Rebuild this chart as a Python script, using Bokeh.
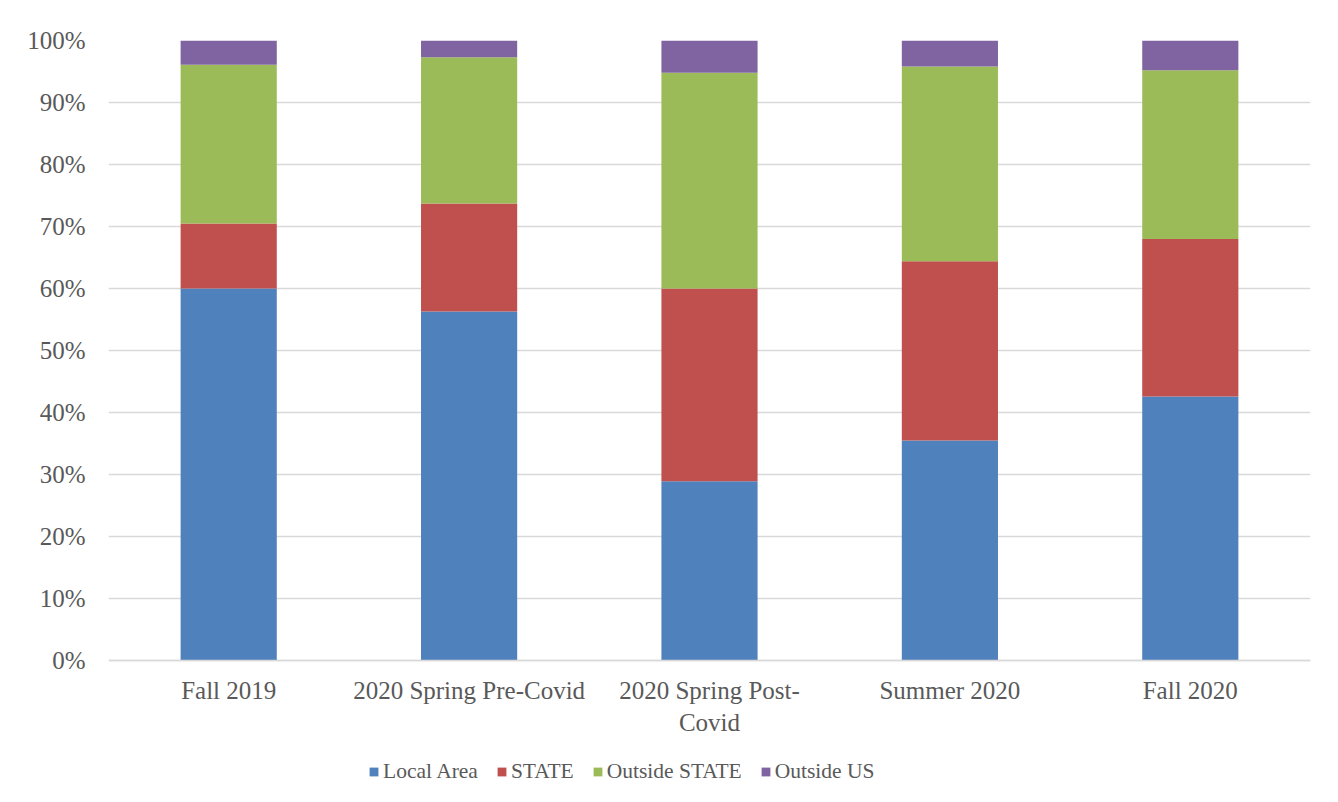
from bokeh.plotting import figure
from bokeh.models import (FactorRange, Range1d, FixedTicker, PrintfTickFormatter, Legend,
                          LegendItem, CategoricalAxis)
from bokeh.embed import file_html
from bokeh.resources import INLINE

categories = ["Fall 2019", "2020 Spring Pre-Covid", "2020 Spring Post-\nCovid", "Summer 2020", "Fall 2020"]
series_names = ["Local Area", "STATE", "Outside STATE", "Outside US"]
local_area = [60.0, 56.3, 28.9, 35.5, 42.6]
state = [10.5, 17.4, 31.1, 28.9, 25.4]
outside_state = [25.6, 23.6, 34.8, 31.4, 27.2]
outside_us = [3.9, 2.7, 5.2, 4.2, 4.8]
y_ticks = [0, 10, 20, 30, 40, 50, 60, 70, 80, 90, 100]

colors = ["#4F81BD", "#C0504D", "#9BBB59", "#8064A2"]
FONT = "Liberation Serif"
TEXT_COLOR = "#595959"
GRID = "#d9d9d9"

data = {"cat": categories, "Local Area": local_area, "STATE": state,
        "Outside STATE": outside_state, "Outside US": outside_us}

# frame: 40px from top to bottom of canvas (746px); 100% spans 620px -> extra space below 0
p = figure(width=1322, height=786, output_backend="svg", toolbar_location=None,
           x_range=FactorRange(*categories, range_padding=0),
           y_range=Range1d(-20.32, 100), x_axis_location=None)
p.min_border_left = 108
p.min_border_right = 12
p.min_border_top = 40
p.min_border_bottom = 0
p.outline_line_color = None

renderers = p.vbar_stack(series_names, x="cat", width=0.4, source=data,
                         color=colors, line_color=None)

ticker = FixedTicker(ticks=y_ticks)
p.yaxis.ticker = ticker
p.ygrid.ticker = ticker
p.yaxis.formatter = PrintfTickFormatter(format="%d%%")
p.yaxis.axis_line_color = None
p.yaxis.major_tick_line_color = None
p.yaxis.minor_tick_line_color = None
p.yaxis.major_label_standoff = 17

xaxis = CategoricalAxis(fixed_location=0)
xaxis.axis_line_color = GRID
xaxis.axis_line_width = 1.5
xaxis.major_tick_line_color = None
xaxis.minor_tick_line_color = None
xaxis.major_label_standoff = 10
p.add_layout(xaxis, "below")

for ax in (xaxis, p.yaxis[0]):
    ax.major_label_text_font = FONT
    ax.major_label_text_font_size = "25px"
    ax.major_label_text_color = TEXT_COLOR

p.xgrid.grid_line_color = None
p.ygrid.grid_line_color = GRID
p.ygrid.grid_line_width = 1.5

legend = Legend(items=[LegendItem(label=n, renderers=[r]) for n, r in zip(series_names, renderers)],
                orientation="horizontal", location=(260, 2),
                label_text_font=FONT, label_text_font_size="21.5px", label_text_color=TEXT_COLOR,
                glyph_width=11, glyph_height=11, label_standoff=4, spacing=18,
                padding=2, margin=0, border_line_color=None, background_fill_alpha=0)
p.add_layout(legend, "center")

open("out.html", "w").write(file_html(p, INLINE))
